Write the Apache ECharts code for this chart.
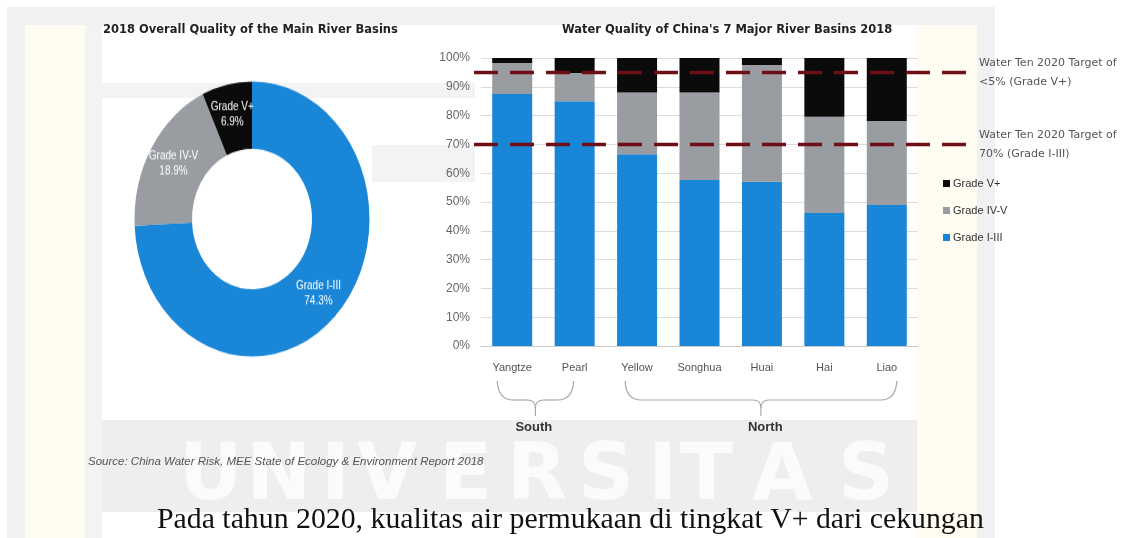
<!DOCTYPE html>
<html>
<head>
<meta charset="utf-8">
<script src="https://cdn.jsdelivr.net/npm/echarts@6/dist/echarts.min.js"></script>
<style>
  html, body { margin: 0; padding: 0; background: #ffffff; }
  #main { position: absolute; left: 0; top: 0; width: 1134px; height: 538px; }
  #donut { position: absolute; left: 102px; top: 69px; width: 300px; height: 300px;
           transform: scaleY(1.17); transform-origin: 50% 50%; }
</style>
</head>
<body>
<div id="main"></div>
<div id="donut"></div>
<script>
// ---- data ----
const basins      = ['Yangtze', 'Pearl', 'Yellow', 'Songhua', 'Huai', 'Hai', 'Liao'];
const gradeI_III  = [87.5, 85.0, 66.6, 57.6, 57.0, 46.2, 49.0];
const gradeIV_V   = [10.8,  9.8, 21.4, 30.4, 40.6, 33.4, 29.1];
const gradeVplus  = [ 1.7,  5.2, 12.0, 12.0,  2.4, 20.4, 21.9];
const overallNames  = ['Grade I-III', 'Grade IV-V', 'Grade V+'];
const overallValues = [74.3, 18.9, 6.9];
const targetLevels  = [95, 70];
const targetLabels  = [
  ['Water Ten 2020 Target of', '<5% (Grade V+)'],
  ['Water Ten 2020 Target of', '70% (Grade I-III)']
];
const regionGroups = [
  { name: 'South', from: 0, to: 1 },
  { name: 'North', from: 2, to: 6 }
];

const BLUE = '#1a86d8', GREY = '#999ca1', BLACK = '#0b0b0b';
const SANS = '"Liberation Sans", Arial, sans-serif';
const WIDE = '"DejaVu Sans", Verdana, sans-serif';
const NARROW = '"Liberation Sans Narrow", "Liberation Sans", Arial, sans-serif';

// ---- stacked bar chart ----
const chart = echarts.init(document.getElementById('main'), null, { renderer: 'canvas' });
chart.setOption({
  backgroundColor: 'transparent',
  animation: false,
  grid: { left: 481, right: 216, top: 58, bottom: 192 },
  legend: {
    orient: 'vertical', left: 943, top: 178, itemGap: 16,
    itemWidth: 7, itemHeight: 7, icon: 'rect', padding: 0,
    data: ['Grade V+', 'Grade IV-V', 'Grade I-III'],
    textStyle: { fontFamily: NARROW, fontSize: 11, color: '#333', padding: [0, 0, 0, -2] }
  },
  xAxis: {
    type: 'category', data: basins,
    axisLine: { lineStyle: { color: '#c8c8c8' } },
    axisTick: { show: false },
    axisLabel: { fontFamily: SANS, fontSize: 11, color: '#555', margin: 16 }
  },
  yAxis: {
    type: 'value', min: 0, max: 100, interval: 10,
    axisLine: { show: false }, axisTick: { show: false },
    axisLabel: { formatter: '{value}%', fontFamily: SANS, fontSize: 12, color: '#666', margin: 11 },
    splitLine: { lineStyle: { color: '#dcdcdc' } }
  },
  series: [
    { name: 'Grade I-III', type: 'bar', stack: 'q', data: gradeI_III, barWidth: 40, itemStyle: { color: BLUE } },
    { name: 'Grade IV-V',  type: 'bar', stack: 'q', data: gradeIV_V,  barWidth: 40, itemStyle: { color: GREY } },
    { name: 'Grade V+',    type: 'bar', stack: 'q', data: gradeVplus, barWidth: 40, itemStyle: { color: BLACK } }
  ]
});

// ---- decorations, titles, target lines and region braces ----
const g = [];
// faint page tints behind everything
const tint = (x, y, w, h, c) => g.push({ type: 'rect', z: -10, silent: true,
  shape: { x, y, width: w, height: h }, style: { fill: c } });
tint(7, 7, 988, 18, '#f1f1f3');
tint(7, 25, 18, 513, '#f1f1f3');
tint(25, 25, 60, 513, '#fffcf1');
tint(85, 25, 17, 513, '#f3f3f5');
tint(102, 83, 373, 15, '#f3f3f5');
tint(372, 145, 103, 37, '#f3f3f5');
tint(917, 25, 60, 513, '#fffcf1');
tint(977, 25, 18, 513, '#f1f1f3');
tint(102, 420, 815, 92, '#eeeef1');

// watermark lettering
const wmLetters = 'UNIVERSITAS'.split('');
const wmX = [179, 246, 321, 357, 439, 507, 578, 648, 680, 752, 838];
wmLetters.forEach((ch, i) => g.push({ type: 'text', z: -9, silent: true, x: wmX[i], y: 440,
  style: { text: ch, font: 'bold 78px "DejaVu Sans", sans-serif', fill: '#fbfbfc' } }));

// titles
g.push({ type: 'text', x: 103, y: 24, style: { text: '2018 Overall Quality of the Main River Basins',
  font: 'bold 11.5px ' + WIDE, fill: '#222' } });
g.push({ type: 'text', x: 562, y: 24, style: { text: "Water Quality of China's 7 Major River Basins 2018",
  font: 'bold 11.5px ' + WIDE, fill: '#222' } });

// target lines through the value axis
targetLevels.forEach((v, i) => {
  const y = chart.convertToPixel({ yAxisIndex: 0 }, v);
  g.push({ type: 'line', z: 100, silent: true,
    shape: { x1: 474, y1: y, x2: 977, y2: y },
    style: { stroke: '#6e0e16', lineWidth: 3.5, lineDash: [24, 12] } });
  g.push({ type: 'text', z: 100, x: 979, y: y - 19,
    style: { text: targetLabels[i].join('\n'), font: '11px ' + WIDE, fill: '#555', lineHeight: 19 } });
});

// region braces under the category labels
const braceStyle = { stroke: '#a8a8a8', lineWidth: 1.2, fill: null };
const braceInset = { South: [-15, -1, -2], North: [-12, 10, 5] };
regionGroups.forEach(grp => {
  const ins = braceInset[grp.name];
  const x1 = chart.convertToPixel({ xAxisIndex: 0 }, basins[grp.from]) + ins[0];
  const x2 = chart.convertToPixel({ xAxisIndex: 0 }, basins[grp.to]) + ins[1];
  const xm = (x1 + x2) / 2;
  const top = 381, mid = 400, tip = 416, r = 8;
  g.push({ type: 'bezierCurve', silent: true, style: braceStyle,
    shape: { x1: x1, y1: top, cpx1: x1 + 1, cpy1: mid, x2: x1 + 2 * r, y2: mid } });
  g.push({ type: 'polyline', silent: true, style: braceStyle,
    shape: { points: [[x1 + 2 * r, mid], [xm - r, mid]] } });
  g.push({ type: 'bezierCurve', silent: true, style: braceStyle,
    shape: { x1: xm - r, y1: mid, cpx1: xm, cpy1: mid, x2: xm, y2: mid + r } });
  g.push({ type: 'bezierCurve', silent: true, style: braceStyle,
    shape: { x1: xm + r, y1: mid, cpx1: xm, cpy1: mid, x2: xm, y2: mid + r } });
  g.push({ type: 'polyline', silent: true, style: braceStyle,
    shape: { points: [[xm, mid + r], [xm, tip]] } });
  g.push({ type: 'polyline', silent: true, style: braceStyle,
    shape: { points: [[xm + r, mid], [x2 - 2 * r, mid]] } });
  g.push({ type: 'bezierCurve', silent: true, style: braceStyle,
    shape: { x1: x2 - 2 * r, y1: mid, cpx1: x2 - 1, cpy1: mid, x2: x2, y2: top } });
  g.push({ type: 'text', x: xm - 18 + ins[2], y: 421,
    style: { text: grp.name, font: 'bold 13px ' + SANS, fill: '#333' } });
});

// source note
g.push({ type: 'text', x: 88, y: 456, style: {
  text: 'Source: China Water Risk, MEE State of Ecology & Environment Report 2018',
  font: 'italic 11.5px ' + SANS, fill: '#555' } });

// body text of the page
g.push({ type: 'text', x: 157, y: 505, style: {
  text: 'Pada tahun 2020, kualitas air permukaan di tingkat V+ dari cekungan',
  font: '29.8px "Liberation Serif", "Times New Roman", serif', fill: '#111' } });

chart.setOption({ graphic: { elements: g } });

// ---- overall donut ----
const donut = echarts.init(document.getElementById('donut'), null, { renderer: 'canvas' });
donut.setOption({
  backgroundColor: 'transparent',
  animation: false,
  series: [{
    type: 'pie', radius: [60, 117.5], center: ['50%', '50%'],
    startAngle: 90, clockwise: true,
    data: overallNames.map((n, i) => ({ name: n, value: overallValues[i],
      itemStyle: { color: [BLUE, GREY, BLACK][i] } })),
    label: { show: true, position: 'inside', color: '#fff', fontFamily: SANS, fontSize: 10,
      lineHeight: 13, formatter: p => p.name + '\n' + p.value + '%' },
    labelLine: { show: false },
    emphasis: { disabled: true }
  }]
});
</script>
</body>
</html>
